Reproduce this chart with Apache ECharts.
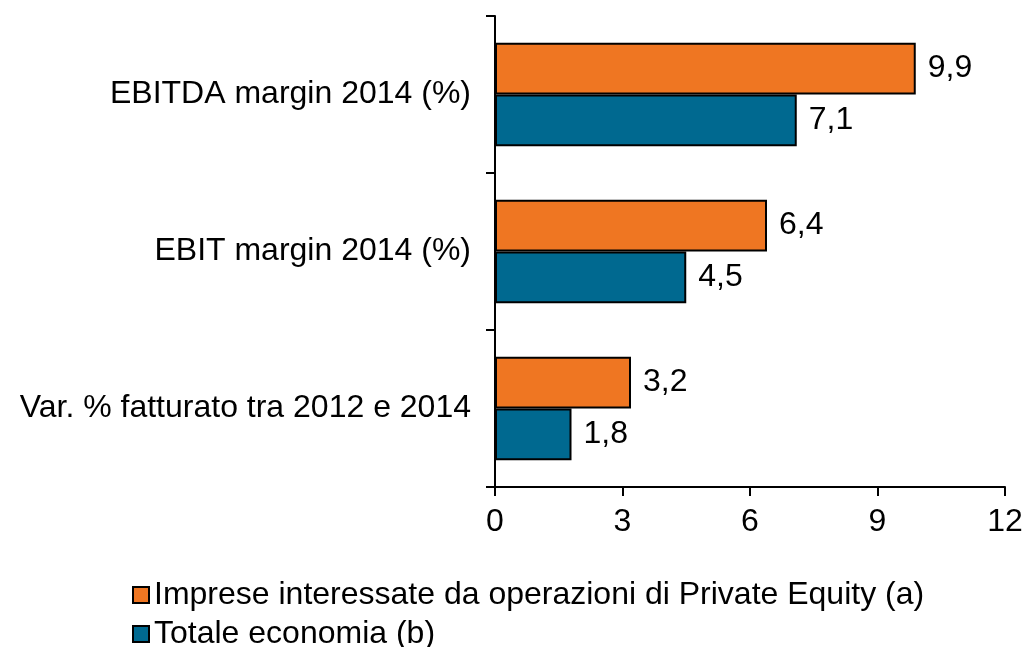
<!DOCTYPE html>
<html lang="it">
<head>
  <meta charset="UTF-8">
  <script src="https://cdn.jsdelivr.net/npm/echarts@6/dist/echarts.min.js"></script>
  <style>
    body { margin: 0; background: #ffffff; }
    #main { width: 1028px; height: 647px; }
  </style>
</head>
<body>
  <div id="main"></div>
  <script>
    // chart data
    var categories = ['EBITDA margin 2014 (%)', 'EBIT margin 2014 (%)', 'Var. % fatturato tra 2012 e 2014'];
    var seriesNames = ['Imprese interessate da operazioni di Private Equity (a)', 'Totale economia (b)'];
    var privateEquity = [9.9, 6.4, 3.2];
    var totaleEconomia = [7.1, 4.5, 1.8];
    var xTicks = [0, 3, 6, 9, 12];

    var font = 'Liberation Sans, Arial, sans-serif';
    var chart = echarts.init(document.getElementById('main'));

    function fmt(p) {
      return p.value.toFixed(1).replace('.', ',');
    }

    // one legend per row, stacked like the original
    function legendRow(name, top) {
      return {
        orient: 'horizontal',
        left: 127,
        top: top,
        itemWidth: 16,
        itemHeight: 16,
        icon: 'rect',
        itemStyle: { borderColor: '#000', borderWidth: 2 },
        textStyle: { fontSize: 32, color: '#000', fontFamily: font },
        data: [name]
      };
    }

    chart.setOption({
      animation: false,
      textStyle: { fontFamily: font },
      grid: { left: 495, right: 23, top: 16, bottom: 160, containLabel: false },
      legend: [legendRow(seriesNames[0], 574), legendRow(seriesNames[1], 613)],
      xAxis: {
        type: 'value',
        min: xTicks[0],
        max: xTicks[xTicks.length - 1],
        interval: 3,
        axisLine: { show: true, lineStyle: { color: '#000', width: 2 } },
        axisTick: { show: true, length: 9, lineStyle: { color: '#000', width: 2 } },
        axisLabel: { fontSize: 32, color: '#000', margin: 19 },
        splitLine: { show: false }
      },
      yAxis: {
        type: 'category',
        inverse: true,
        data: categories,
        axisLine: { show: true, lineStyle: { color: '#000', width: 2 } },
        axisTick: { show: true, length: 9, lineStyle: { color: '#000', width: 2 } },
        axisLabel: { fontSize: 32, color: '#000', margin: 24 }
      },
      series: [
        {
          name: seriesNames[0],
          type: 'bar',
          data: privateEquity,
          barGap: '0%',
          barCategoryGap: '34%',
          itemStyle: { color: '#EF7622', borderColor: '#000', borderWidth: 2 },
          label: { show: true, position: 'right', distance: 12, fontSize: 32, color: '#000', formatter: fmt }
        },
        {
          name: seriesNames[1],
          type: 'bar',
          data: totaleEconomia,
          barGap: '0%',
          barCategoryGap: '34%',
          itemStyle: { color: '#006990', borderColor: '#000', borderWidth: 2 },
          label: { show: true, position: 'right', distance: 12, fontSize: 32, color: '#000', formatter: fmt }
        }
      ]
    });
  </script>
</body>
</html>
